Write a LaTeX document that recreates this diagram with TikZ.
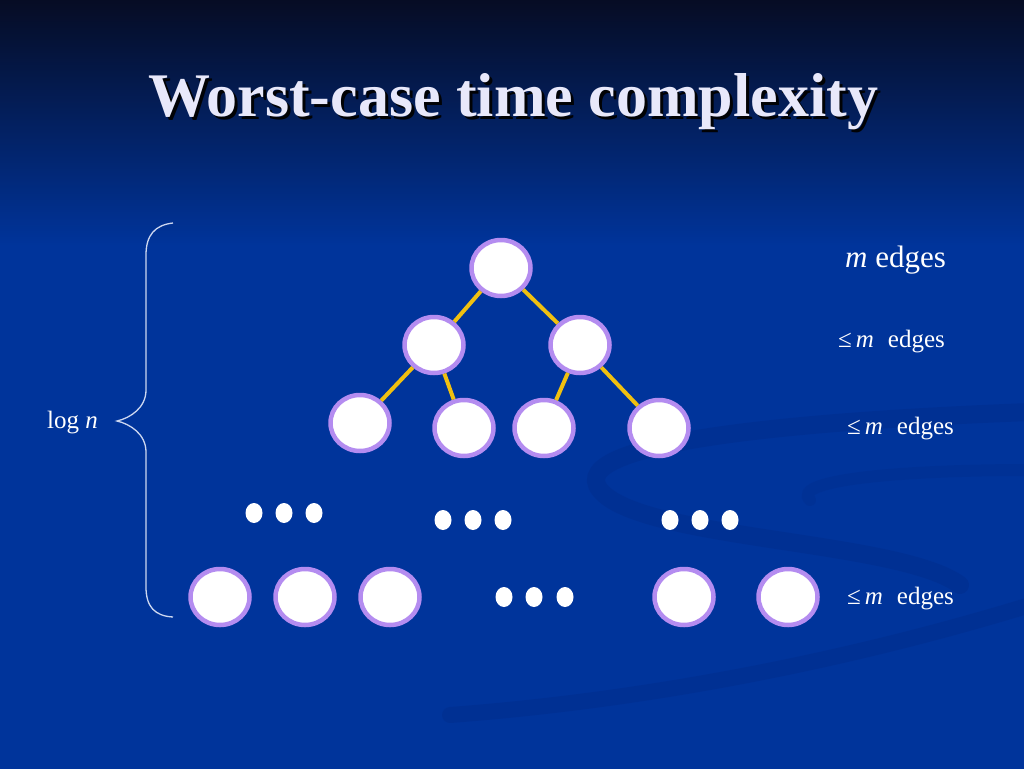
\documentclass[tikz,border=0pt]{standalone}
\usepackage{fontspec}
\setmainfont{Liberation Serif}
\usetikzlibrary{shapes.geometric}
\definecolor{bgblue}{RGB}{0,52,155}
\definecolor{bgtop}{RGB}{6,12,36}
\definecolor{swoosh}{RGB}{0,38,125}
\definecolor{nodeborder}{RGB}{180,140,240}
\definecolor{edgeyellow}{RGB}{240,192,16}
\definecolor{titlecol}{RGB}{232,232,250}
\definecolor{bracecol}{RGB}{205,215,240}
\pgfdeclareverticalshading{slidebg}{100bp}{color(0bp)=(bgblue); color(59bp)=(bgblue); color(75bp)=(bgtop); color(100bp)=(bgtop)}
\tikzset{
  treenode/.style={ellipse, draw=nodeborder, fill=white, line width=4.5pt,
    minimum width=59pt, minimum height=56pt, inner sep=0pt},
  dotnode/.style={ellipse, fill=white, minimum width=17pt, minimum height=20pt, inner sep=0pt},
  treeedge/.style={draw=edgeyellow, line width=4pt},
  lbl/.style={text=white, anchor=base west, inner sep=0pt, font=\fontsize{25}{30}\selectfont},
}
\begin{document}
\begin{tikzpicture}[x=1pt,y=-1pt]
\useasboundingbox (0,0) rectangle (1024,768);
% background
\shade[shading=slidebg] (0,0) rectangle (1024,768);
% faint swooshes
\draw[swoosh, line width=18pt, opacity=0.25, line cap=round]
  (1030,412) .. controls (820,420) and (560,440) .. (600,490)
  .. controls (640,540) and (900,540) .. (960,585);
\draw[swoosh, line width=16pt, opacity=0.25, line cap=round]
  (1030,605) .. controls (850,660) and (650,700) .. (450,715);
\draw[swoosh, line width=12pt, opacity=0.18, line cap=round]
  (1030,470) .. controls (900,470) and (790,480) .. (810,500);
% title with shadow
\node[anchor=base, inner sep=0pt, text=black!85!bgtop, font=\fontsize{62}{70}\selectfont\bfseries] (tshadow) at (516,119) {Worst-case time complexity};
\node[anchor=base, inner sep=0pt, text=titlecol, font=\fontsize{62}{70}\selectfont\bfseries] (title) at (513,116) {Worst-case time complexity};
% tree nodes
\node[treenode] (r) at (501,268) {};
\node[treenode] (l) at (434,345) {};
\node[treenode] (rr) at (580,345) {};
\node[treenode] (a) at (360,423) {};
\node[treenode] (b) at (464,428) {};
\node[treenode] (c) at (544,428) {};
\node[treenode] (d) at (659,428) {};
\node[treenode] (b1) at (220,597) {};
\node[treenode] (b2) at (305,597) {};
\node[treenode] (b3) at (390,597) {};
\node[treenode] (b4) at (684,597) {};
\node[treenode] (b5) at (788,597) {};
% edges
\draw[treeedge] (r) -- (l);
\draw[treeedge] (r) -- (rr);
\draw[treeedge] (l) -- (a);
\draw[treeedge] (l) -- (b);
\draw[treeedge] (rr) -- (c);
\draw[treeedge] (rr) -- (d);
% dots
\foreach \n/\x/\y in {p1/254/513, p2/284/513, p3/314/513,
                      q1/443/520, q2/473/520, q3/503/520,
                      s1/670/520, s2/700/520, s3/730/520,
                      t1/504/597, t2/534/597, t3/565/597}
  \node[dotnode] (\n) at (\x,\y) {};
% brace
\coordinate (bt) at (173,223);
\coordinate (bb) at (173,617);
\draw[bracecol, line width=1.3pt]
  (bt) .. controls (155,225) and (146,235) .. (146,255) -- (146,390)
  .. controls (146,408) and (130,418) .. (117,421)
  .. controls (130,424) and (146,434) .. (146,452) -- (146,587)
  .. controls (146,607) and (155,616) .. (bb);
% labels
\node[lbl] (logn) at (47,428) {log \textit{n}};
\node[lbl, font=\fontsize{31}{36}\selectfont] (m1) at (845,267) {\textit{m} edges};
\node[lbl] (m2) at (838,347) {≤\hspace{4pt}\textit{m}\hspace{14pt}edges};
\node[lbl] (m3) at (847,434) {≤\hspace{4pt}\textit{m}\hspace{14pt}edges};
\node[lbl] (m4) at (847,604) {≤\hspace{4pt}\textit{m}\hspace{14pt}edges};
\end{tikzpicture}
\end{document}
